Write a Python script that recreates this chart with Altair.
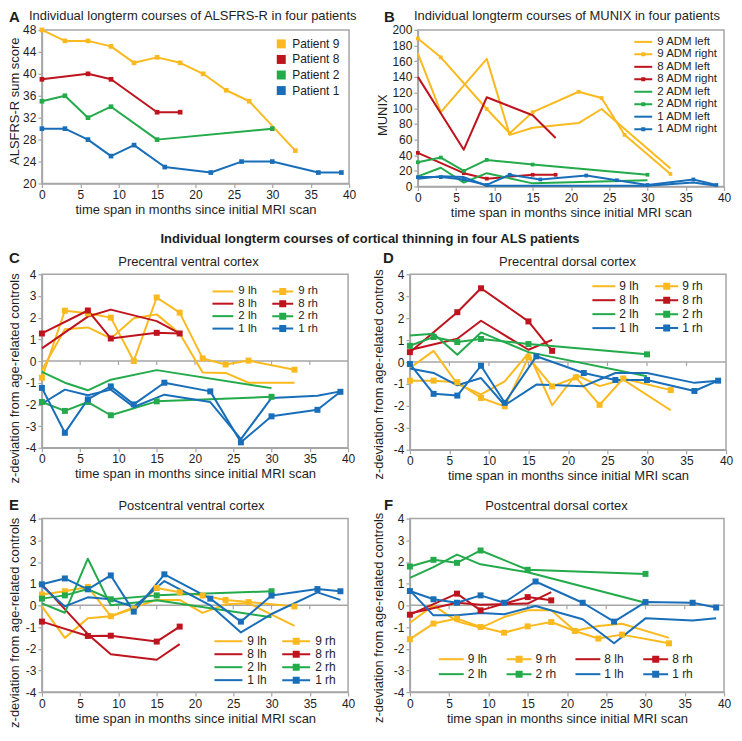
import altair as alt
import pandas as pd

FONT = "Liberation Sans"
YEL, RED, GRN, BLU = "#FAB91E", "#BE141E", "#23AA4B", "#196EB9"
GRAY = "#A6A6A6"
INK = "#1E1E1E"

X_TITLE = "time span in months since initial MRI scan"
Z_TITLE = "z-deviation from age-related controls"
X_TICKS = [0, 5, 10, 15, 20, 25, 30, 35, 40]
Z_TICKS = [-4, -3, -2, -1, 0, 1, 2, 3, 4]
ALS_TICKS = [20, 24, 28, 32, 36, 40, 44, 48]
MUNIX_TICKS = [0, 20, 40, 60, 80, 100, 120, 140, 160, 180, 200]
ZERO_MARKS = [5, 10, 15, 20, 25, 30, 35]

# visit months per patient
T9 = [0, 3, 6, 9, 12, 15, 18, 21, 24, 27, 33]
T8 = [0, 6, 9, 15, 18]
T2 = [0, 3, 6, 9, 15, 30]
T1 = [0, 3, 6, 9, 12, 16, 22, 26, 30, 36, 39]

# A: ALSFRS-R
A_NAMES = ["Patient 9", "Patient 8", "Patient 2", "Patient 1"]
ALS_P9 = [48, 46, 46, 45, 42, 43, 42, 40, 37, 35, 26]
ALS_P8 = [39, 40, 39, 33, 33]
ALS_P2 = [35, 36, 32, 34, 28, 30]
ALS_P1 = [30, 30, 28, 25, 27, 23, 22, 24, 24, 22, 22]

# B: MUNIX
B_NAMES = ["9 ADM left", "9 ADM right", "8 ADM left", "8 ADM right",
           "2 ADM left", "2 ADM right", "1 ADM left", "1 ADM right"]
T9_MUNIX_L = [0, 3, 9, 12, 15, 21, 24, 33]
T9_MUNIX_R = [0, 3, 9, 12, 15, 21, 24, 27, 33]
MUNIX_9L = [170, 95, 163, 66, 75, 81, 99, 23]
MUNIX_9R = [189, 165, 99, 68, 95, 121, 113, 66, 16]
MUNIX_8L = [140, 47, 114, 91, 62]
MUNIX_8R = [43, 17, 10, 15, 15]
MUNIX_2L = [13, 24, 5, 17, 4, 8]
MUNIX_2R = [31, 37, 20, 34, 28, 15]
MUNIX_1L = [10, 13, 12, 1, 1, 1, 1, 1, 1, 5, 1]
MUNIX_1R = [12, 12, 9, 2, 15, 9, 14, 8, 2, 9, 2]

Z_NAMES = ["9 lh", "9 rh", "8 lh", "8 rh", "2 lh", "2 rh", "1 lh", "1 rh"]
PAIR_COLORS = [YEL, YEL, RED, RED, GRN, GRN, BLU, BLU]

# C: precentral ventral
C_9L = [-0.42, 1.46, 1.55, 1.04, 1.97, 2.15, 1.27, -0.53, -0.55, -1.0, -1.0]
C_9R = [-0.77, 2.32, 2.2, 2.0, 0.0, 2.93, 2.23, 0.12, -0.16, 0.02, -0.4]
C_8L = [0.58, 2.05, 2.37, 1.84, 1.27]
C_8R = [1.27, 2.33, 1.04, 1.3, 1.27]
C_2L = [-0.5, -1.0, -1.35, -0.86, -0.42, -1.25]
C_2R = [-1.89, -2.3, -1.89, -2.5, -1.86, -1.65]
C_1L = [-1.97, -1.32, -1.58, -1.32, -2.12, -1.55, -1.89, -3.6, -1.7, -1.6, -1.4]
C_1R = [-1.24, -3.31, -1.77, -1.17, -2.0, -1.0, -1.4, -3.75, -2.55, -2.25, -1.42]

# D: precentral dorsal
D_9L = [-0.27, 0.51, -1.0, -1.48, -0.88, 0.41, -1.97, -0.58, -1.1, -0.8, -2.2]
D_9R = [-0.85, -0.85, -0.92, -1.64, -2.02, 0.21, -1.11, -0.7, -1.95, -0.75, -1.28]
D_8L = [0.55, 1.06, 1.88, 0.56, 1.01]
D_8R = [0.45, 2.27, 3.36, 1.85, 0.51]
D_2L = [1.21, 1.29, 0.33, 1.35, 0.45, -0.65]
D_2R = [0.74, 1.14, 0.91, 1.05, 0.82, 0.35]
D_1L = [-0.3, -0.5, -1.06, -0.73, -1.97, -1.03, -1.1, -0.5, -0.5, -0.95, -0.85]
D_1R = [-0.09, -1.45, -1.53, -0.17, -1.86, 0.26, -0.5, -0.82, -0.82, -1.32, -0.85]

# E: postcentral ventral
E_9L = [-0.05, -1.5, -0.6, -0.5, -0.1, 0.25, 0.25, -0.35, 0.05, 0.1, -0.95]
E_9R = [0.5, 0.65, 0.85, -0.5, -0.15, 0.8, 0.6, 0.45, 0.25, 0.15, -0.05]
E_8L = [0.97, -1.33, -2.25, -2.51, -1.79]
E_8R = [-0.75, -1.41, -1.4, -1.67, -0.98]
E_2L = [0.09, -0.34, 2.15, 0.0, 0.23, -0.55]
E_2R = [0.31, 0.46, 0.75, 0.28, 0.46, 0.65]
E_1L = [0.89, -0.05, 0.37, 0.28, -0.08, 1.12, 0.0, -1.25, -0.4, 0.6, 0.25]
E_1R = [0.97, 1.24, 0.74, 1.38, -0.29, 1.43, 0.31, -0.75, 0.45, 0.75, 0.65]

# F: postcentral dorsal
F_9L = [-0.8, 0.0, -0.74, -1.04, -0.54, -0.23, -0.23, -1.17, -0.95, -0.85, -1.5]
F_9R = [-1.56, -0.84, -0.61, -1.0, -1.26, -0.97, -0.77, -1.18, -1.53, -1.35, -1.75]
F_8L = [-0.38, 0.12, 0.03, 0.08, 0.61]
F_8R = [-0.43, 0.54, -0.23, 0.38, 0.23]
F_2L = [1.27, 1.76, 2.34, 1.89, 1.53, 0.12]
F_2R = [1.79, 2.1, 1.96, 2.53, 1.64, 1.45]
F_1L = [0.69, -0.46, -0.46, -0.35, -0.41, -0.03, -0.64, -1.75, -0.6, -0.7, -0.6]
F_1R = [0.66, 0.28, 0.12, 0.46, 0.12, 1.1, 0.12, -0.75, 0.15, 0.12, -0.1]

SYM_BASE = 12  # legend symbol box (px) used for row layout


def frame(series, key, marked, cmap):
    rows = []
    for name, (t, v) in series.items():
        for ti, vi in zip(t, v):
            rows.append({"series": name, "hex": cmap[name], "marked": name in marked,
                         "month": ti, key: vi})
    return pd.DataFrame(rows)


def sym_paths(names, length, sq_px):
    """Legend glyphs: a 2px line of `length` px, plus a square for marked series."""
    r = SYM_BASE / 2.0
    t = 1.0 / r
    x1 = length / r - 1
    line = f"M-1,{-t:.3f}H{x1:.3f}V{t:.3f}H-1Z"
    c = length / (2 * r) - 1
    s = sq_px / r
    sq = f"M{c - s:.3f},{-s:.3f}H{c + s:.3f}V{s:.3f}H{c - s:.3f}Z"
    return [line + sq if (n.endswith("rh") or n.endswith("right")) else line for n in names]


def text_layer(text, x, y, size, weight="normal", align="left"):
    return alt.Chart(pd.DataFrame({"t": [text]})).mark_text(
        font=FONT, fontSize=size, fontWeight=weight, align=align,
        baseline="alphabetic", color=INK
    ).encode(text="t:N", x=alt.value(x), y=alt.value(y))


def panel(series, key, names, colors, marked, w, h, ydom, yticks, ytitle, ytx, yty,
          leg_kw, sym_w, shape_range, msize, texts, zero=False, leg_font=12):
    cmap = dict(zip(names, colors))
    df = frame(series, key, marked, cmap)
    x = alt.X("month:Q", scale=alt.Scale(domain=[0, 40], nice=False, zero=False),
              axis=alt.Axis(values=X_TICKS, title=X_TITLE, titlePadding=3))
    y = alt.Y(f"{key}:Q", scale=alt.Scale(domain=ydom, nice=False, zero=False),
              axis=alt.Axis(values=yticks, labelExpr="toString(datum.value)", title=ytitle,
                            titleX=ytx, titleY=yty, titleBaseline="bottom", titleAngle=-90))
    raw_color = alt.Color("hex:N", scale=None)
    layers = []
    if zero:
        layers.append(alt.Chart(pd.DataFrame({key: [0]})).mark_rule(
            color=GRAY, strokeWidth=1.5).encode(y=y))
        layers.append(alt.Chart(pd.DataFrame({"month": ZERO_MARKS, key: [0] * len(ZERO_MARKS)}))
                      .mark_tick(orient="vertical", size=4, thickness=1.2, yOffset=2,
                                 color=GRAY, opacity=1).encode(x=x, y=y))
    layers.append(alt.Chart(df).mark_line(strokeWidth=2, strokeJoin="round").encode(
        x=x, y=y, color=raw_color, detail="series:N"))
    layers.append(alt.Chart(df).transform_filter("datum.marked").mark_square(
        size=msize, opacity=1).encode(x=x, y=y, color=raw_color, detail="series:N"))
    cscale = alt.Scale(domain=names, range=colors)
    leg = alt.Legend(orient="none", title=None, padding=0, labelFont=FONT, labelFontSize=leg_font,
                     labelColor=INK, symbolStrokeWidth=0, symbolSize=sym_w * sym_w,
                     labelLimit=300, **leg_kw)
    lg = alt.Chart(df).transform_filter("false").mark_point(
        filled=True, opacity=1, size=sym_w * sym_w).encode(
        color=alt.Color("series:N", scale=cscale, legend=leg),
        shape=alt.Shape("series:N", scale=alt.Scale(domain=names, range=shape_range), legend=leg))
    layers.append(lg)
    layers += texts
    return alt.layer(*layers).properties(width=w, height=h)


A_SERIES = {"Patient 9": (T9, ALS_P9), "Patient 8": (T8, ALS_P8),
            "Patient 2": (T2, ALS_P2), "Patient 1": (T1, ALS_P1)}
B_SERIES = {"9 ADM left": (T9_MUNIX_L, MUNIX_9L), "9 ADM right": (T9_MUNIX_R, MUNIX_9R),
            "8 ADM left": (T8, MUNIX_8L), "8 ADM right": (T8, MUNIX_8R),
            "2 ADM left": (T2, MUNIX_2L), "2 ADM right": (T2, MUNIX_2R),
            "1 ADM left": (T1, MUNIX_1L), "1 ADM right": (T1, MUNIX_1R)}


def zser(v9l, v9r, v8l, v8r, v2l, v2r, v1l, v1r):
    return {"9 lh": (T9, v9l), "9 rh": (T9, v9r), "8 lh": (T8, v8l), "8 rh": (T8, v8r),
            "2 lh": (T2, v2l), "2 rh": (T2, v2r), "1 lh": (T1, v1l), "1 rh": (T1, v1r)}


Z_MARKED = ["9 rh", "8 rh", "2 rh", "1 rh"]


def zleg(x, y, cols, colpad, rowpad, length, gap):
    return dict(legendX=x, legendY=y, columns=cols, columnPadding=colpad, rowPadding=rowpad,
                labelOffset=length - SYM_BASE + gap, direction="horizontal")


A = panel(A_SERIES, "score", A_NAMES, [YEL, RED, GRN, BLU], A_NAMES, 308, 154,
          [20, 48], ALS_TICKS, "ALSFRS-R sum score", -20, 71,
          dict(legendX=234, legendY=8, columns=1, rowPadding=3.6, labelOffset=5),
          9, ["square"] * 4, 22,
          [text_layer("A", -33, -8, 15, "bold"),
           text_layer("Individual longterm courses of ALSFRS-R in four patients", -13, -9.5, 13)])

B = panel(B_SERIES, "munix", B_NAMES, PAIR_COLORS, [n for n in B_NAMES if n.endswith("right")],
          307, 157, [0, 200], MUNIX_TICKS, "MUNIX", -28, 85,
          dict(legendX=217, legendY=6, columns=1, rowPadding=0.5, labelOffset=18 - SYM_BASE + 5),
          SYM_BASE, sym_paths(B_NAMES, 18, 2), 14,
          [text_layer("B", -34, -8, 15, "bold"),
           text_layer("Individual longterm courses of MUNIX in four patients", -4, -9.5, 13)],
          leg_font=11.5)

C = panel(zser(C_9L, C_9R, C_8L, C_8R, C_2L, C_2R, C_1L, C_1R), "z", Z_NAMES, PAIR_COLORS,
          Z_MARKED, 307, 174, [-4, 4], Z_TICKS, Z_TITLE, -20, 104,
          zleg(171, 11, 2, 15, 0.5, 21, 5),
          SYM_BASE, sym_paths(Z_NAMES, 21, 3.5), 36,
          [text_layer("C", -33, -11, 15, "bold"),
           text_layer("Precentral ventral cortex", 147, -8, 13, align="center"),
           text_layer("Individual longterm courses of cortical thinning in four ALS patients",
                      329, -31, 13, "bold", "center")],
          zero=True, leg_font=11.5)

D = panel(zser(D_9L, D_9R, D_8L, D_8R, D_2L, D_2R, D_1L, D_1R), "z", Z_NAMES, PAIR_COLORS,
          Z_MARKED, 317, 176, [-4, 4], Z_TICKS, Z_TITLE, -24, 100,
          zleg(183, 6, 2, 16, 2, 23, 4),
          SYM_BASE, sym_paths(Z_NAMES, 23, 3.5), 36,
          [text_layer("D", -27, -11, 15, "bold"),
           text_layer("Precentral dorsal cortex", 158, -8, 13, align="center")],
          zero=True)

E = panel(zser(E_9L, E_9R, E_8L, E_8R, E_2L, E_2R, E_1L, E_1R), "z", Z_NAMES, PAIR_COLORS,
          Z_MARKED, 307, 174, [-4, 4], Z_TICKS, Z_TITLE, -20, 104,
          zleg(173, 117, 2, 15, 1, 28, 5),
          SYM_BASE, sym_paths(Z_NAMES, 28, 3.5), 36,
          [text_layer("E", -33, -9, 15, "bold"),
           text_layer("Postcentral ventral cortex", 150, -9, 13, align="center")],
          zero=True)

F = panel(zser(F_9L, F_9R, F_8L, F_8R, F_2L, F_2R, F_1L, F_1R), "z", Z_NAMES, PAIR_COLORS,
          Z_MARKED, 315, 174, [-4, 4], Z_TICKS, Z_TITLE, -24, 99,
          zleg(29, 135, 4, 19, 3, 25, 4),
          SYM_BASE, sym_paths(Z_NAMES, 25, 3.5), 36,
          [text_layer("F", -26, -9, 15, "bold"),
           text_layer("Postcentral dorsal cortex", 147, -9, 13, align="center")],
          zero=True)


def row(left, right, gap):
    return alt.hconcat(left, right, spacing=gap, bounds="flush").resolve_scale(
        color="independent", shape="independent").resolve_legend(
        color="independent", shape="independent")


chart = alt.vconcat(row(A, B, 69), row(C, D, 62), row(E, F, 62), spacing=12).resolve_scale(
    color="independent", shape="independent").resolve_legend(
    color="independent", shape="independent").properties(
    padding=0, background="white"
).configure(font=FONT).configure_axis(
    domainColor=GRAY, domainWidth=1.5, tickColor=GRAY, tickWidth=1.2, tickSize=4,
    labelFontSize=12, titleFontSize=13, labelColor=INK, titleColor=INK,
    labelFont=FONT, titleFont=FONT, titleFontWeight="normal", grid=False,
    labelPadding=2, labelFlush=False
).configure_view(stroke=GRAY, strokeWidth=1.5)

chart.save("out.html", embed_options={"renderer": "svg", "actions": False})
